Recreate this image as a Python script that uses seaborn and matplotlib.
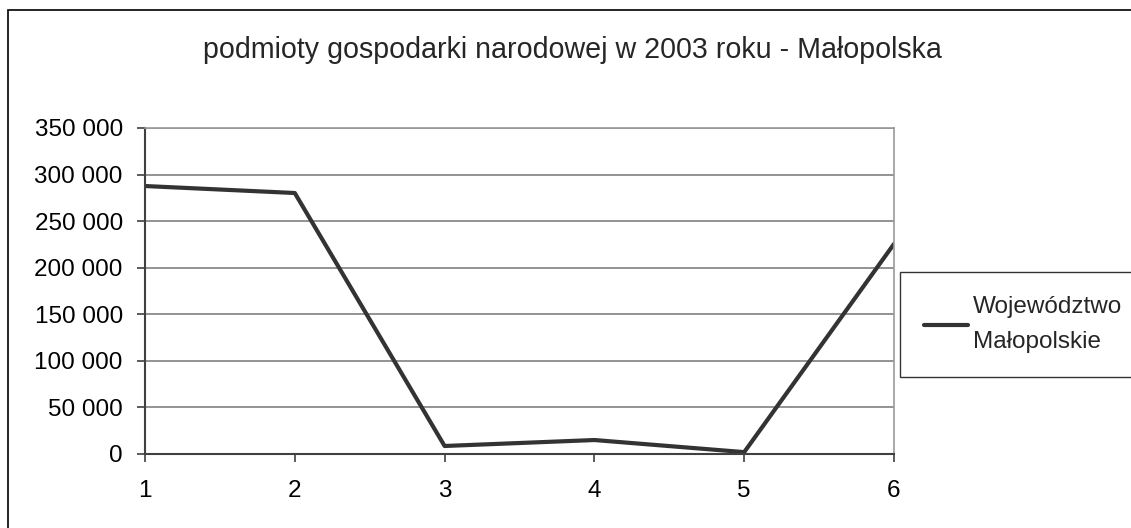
import matplotlib
matplotlib.use("Agg")
import matplotlib.pyplot as plt
import matplotlib.ticker as mticker
import seaborn as sns
import pandas as pd

# data
categories = [1, 2, 3, 4, 5, 6]
values = [287700, 280200, 8600, 15000, 2000, 225500]
series_name = "Województwo\nMałopolskie"
title = "podmioty gospodarki narodowej w 2003 roku - Małopolska"

df = pd.DataFrame({"x": categories, "y": values})

sns.set_theme(style="white")
plt.rcParams["font.family"] = ["Liberation Sans", "DejaVu Sans"]

fig = plt.figure(figsize=(11.31, 5.28), dpi=100)
ax = fig.add_axes([145 / 1131, 1 - 454 / 528, 749 / 1131, 326 / 528])

sns.lineplot(data=df, x="x", y="y", ax=ax, color="#333333", linewidth=3,
             label=series_name, legend=False)

ax.set_xlim(1, 6)
ax.set_ylim(0, 350000)
ax.set_xticks(categories)
ax.set_yticks(range(0, 350001, 50000))
ax.yaxis.set_major_formatter(mticker.FuncFormatter(
    lambda v, p: f"{int(v):,}".replace(",", " ")))
ax.grid(axis="y", color="#808080", linewidth=1.2)
ax.set_axisbelow(True)
ax.set_xlabel("")
ax.set_ylabel("")

for side in ["top", "right"]:
    ax.spines[side].set_color("#999999")
    ax.spines[side].set_linewidth(1.2)
for side in ["left", "bottom"]:
    ax.spines[side].set_color("#404040")
    ax.spines[side].set_linewidth(1.5)

ax.tick_params(axis="both", which="major", labelsize=17.5, colors="#404040",
               labelcolor="black", length=6, width=1.2, direction="out",
               left=True, bottom=True)
ax.tick_params(axis="x", pad=13)
ax.tick_params(axis="y", pad=10)

fig.text(572 / 1131, 1 - 50 / 528, title, ha="center", va="center",
         fontsize=20.6)

# outer chart border (top and left visible, rest cut off)
fig.add_artist(plt.Rectangle((8 / 1131, -0.1), 1.2, 1 - 9.5 / 528 + 0.1,
                             transform=fig.transFigure, fill=False,
                             edgecolor="black", linewidth=1.2))

handles, labels = ax.get_legend_handles_labels()
leg = fig.legend(handles, labels, loc="upper left",
                 bbox_to_anchor=(900 / 1131, 1 - 272 / 528),
                 bbox_transform=fig.transFigure, frameon=True, fancybox=False,
                 fontsize=17.5, handlelength=1.8, borderpad=1.0,
                 borderaxespad=0, handletextpad=0.2)
for t in leg.get_texts():
    t.set_linespacing(1.75)
leg.get_frame().set_edgecolor("black")
leg.get_frame().set_linewidth(1.0)

fig.savefig("out.png", dpi=100)
